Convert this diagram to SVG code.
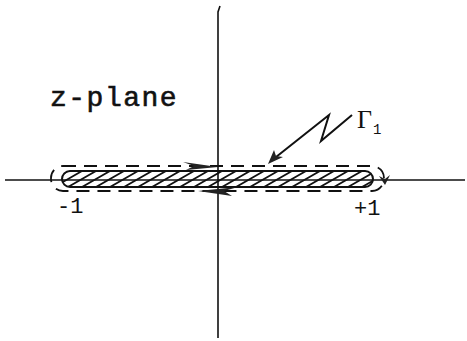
<svg xmlns="http://www.w3.org/2000/svg" width="467" height="341" viewBox="0 0 467 341">
<defs>
<style>
.ax{stroke:#111;stroke-width:1.6;fill:none}
.ln{stroke:#111;stroke-width:2;fill:none}
.dash{stroke:#111;stroke-width:1.8;fill:none;stroke-dasharray:13,8}
.hat{stroke:#111;stroke-width:1.8}
.tx{font-family:"Liberation Mono","Courier New",monospace;fill:#111}
.gm{font-family:"Liberation Serif","Times New Roman",serif;fill:#111}
.ah{fill:#222}
</style>
<clipPath id="slit"><rect x="62" y="171" width="311" height="16" rx="8"/></clipPath>
</defs>
<rect width="467" height="341" fill="#fff"/>
<g id="axes">
<line class="ax" x1="5" y1="180" x2="465" y2="180"/>
<polyline class="ax" points="220,6 218,12 218,338"/>
</g>
<g id="slit-node">
<g clip-path="url(#slit)">
<path class="hat" d="M40,187 L68,171 M54,187 L82,171 M68,187 L96,171 M82,187 L110,171 M96,187 L124,171 M110,187 L138,171 M124,187 L152,171 M138,187 L166,171 M152,187 L180,171 M166,187 L194,171 M180,187 L208,171 M194,187 L222,171 M208,187 L236,171 M222,187 L250,171 M236,187 L264,171 M250,187 L278,171 M264,187 L292,171 M278,187 L306,171 M292,187 L320,171 M306,187 L334,171 M320,187 L348,171 M334,187 L362,171 M348,187 L376,171 M362,187 L390,171"/>
</g>
<rect class="ln" x="62" y="171" width="311" height="16" rx="8"/>
</g>
<g id="contour">
<rect class="dash" x="51" y="166" width="333" height="25" rx="12"/>
<path class="ah" d="M183,162 L218,167 L186,170 L194,166 Z"/>
<path class="ah" d="M238,187 L198,191 L232,196 L224,191 Z"/>
<path class="ah" d="M379,176 L385,185 L390,175 L385,179 Z"/>
</g>
<g id="connectors">
<polyline class="ln" points="352,115 321,141 329,115 271,161"/>
<path class="ah" d="M268,164 L274,150 L276,156 L283,157 Z"/>
</g>
<g id="labels">
<text class="tx" x="50" y="106" font-size="28" letter-spacing="1.5" stroke="#111" stroke-width="0.6">z-plane</text>
<text class="tx" x="57" y="213" font-size="22">-1</text>
<text class="tx" x="354" y="215" font-size="22">+1</text>
<text class="gm" x="357" y="128" font-size="26">Γ</text>
<text class="tx" x="373" y="134" font-size="14">1</text>
</g>
</svg>
